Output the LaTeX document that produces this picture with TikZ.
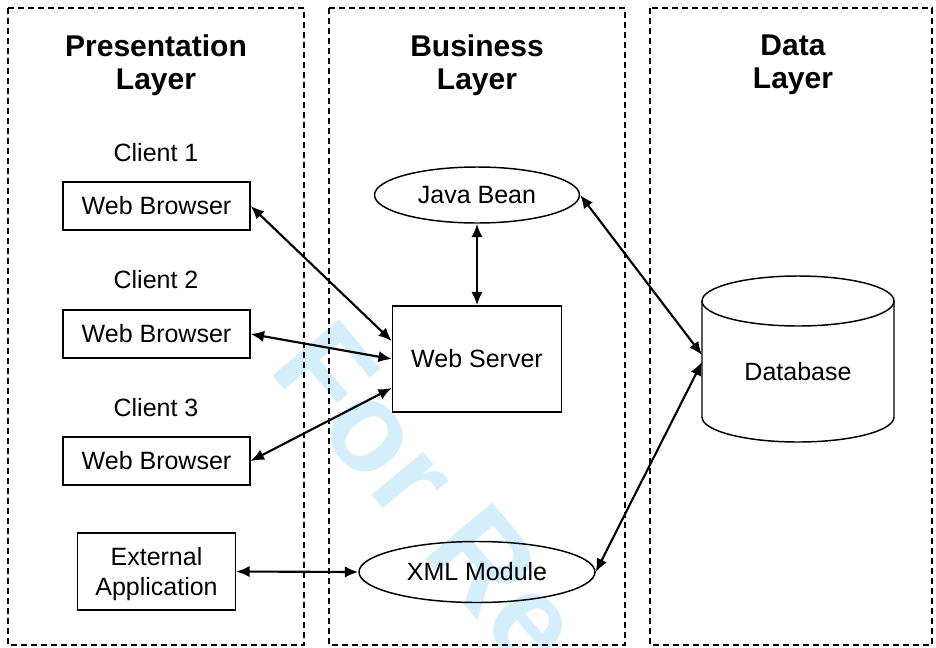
\documentclass[tikz,border=0pt]{standalone}
\usepackage{fontspec}
\setmainfont{Liberation Sans}
\usetikzlibrary{arrows.meta,shapes.geometric,calc}
\definecolor{wmblue}{RGB}{212,238,252}
\begin{document}
\begin{tikzpicture}[x=0.75pt,y=-0.75pt,
  layerbox/.style={draw, line width=1.1pt, dash pattern=on 4.5pt off 3pt},
  title/.style={font=\fontsize{22.5}{24.75}\selectfont\bfseries, align=center, inner sep=0},
  lbl/.style={font=\fontsize{18.75}{22.5}\selectfont, inner sep=0},
  box/.style={draw, line width=1.1pt, font=\fontsize{18.75}{22.5}\selectfont, align=center, inner sep=0},
  oval/.style={ellipse, draw, line width=1.1pt, font=\fontsize{18.75}{22.5}\selectfont, inner sep=0},
  link/.style={{Latex[length=10pt,width=8.5pt]}-{Latex[length=10pt,width=8.5pt]}, line width=1.6pt},
]
\useasboundingbox (0,0) rectangle (936,647);
\fill[white] (0,0) rectangle (936,647);
% watermark
\begin{scope}
\clip (0,0) rectangle (936,647);
\node[text=wmblue, font=\fontsize{95}{95}\selectfont\bfseries, inner sep=0, anchor=base west, rotate=-50] (wm) at (267,369.5) {For Re};
\end{scope}
% layers
\draw[layerbox] (8,8) rectangle (304,645);
\draw[layerbox] (329,8) rectangle (625,645);
\draw[layerbox] (650,8) rectangle (932,645);
\node[title] (t1) at (156,65) {Presentation\\Layer};
\node[title] (t2) at (477,65) {Business\\Layer};
\node[title] (t3) at (793,65) {Data\\Layer};
% presentation
\node[lbl] (c1) at (156,152.5) {Client 1};
\node[lbl] (c2) at (156,279.5) {Client 2};
\node[lbl] (c3) at (156,407.5) {Client 3};
\node[box, minimum width=140.25pt, minimum height=36pt] (wb1) at (156.5,206) {Web Browser};
\node[box, minimum width=140.25pt, minimum height=36pt] (wb2) at (156.5,334) {Web Browser};
\node[box, minimum width=140.25pt, minimum height=36pt] (wb3) at (156.5,461) {Web Browser};
\node[box, minimum width=118.5pt, minimum height=57.75pt] (ext) at (156.5,571.5) {\rule{0pt}{17pt}External\\Application};
% business
\node[oval, minimum width=153.75pt, minimum height=42pt] (jb) at (477,195) {Java Bean};
\node[box, minimum width=126.75pt, minimum height=79.5pt] (ws) at (477,359) {Web Server};
\node[oval, minimum width=177pt, minimum height=45.75pt] (xml) at (477,572) {XML Module};
% data
\draw[line width=1.1pt, fill=white] (702,301) -- (702,417) arc[start angle=180, end angle=360, x radius=72pt, y radius=18.75pt] -- (894,301);
\draw[line width=1.1pt] (798,301) ellipse [x radius=72pt, y radius=18.75pt];
\node[lbl] (db) at (798,372) {Database};
\coordinate (dbA) at (702,355);
\coordinate (dbB) at (702,362);
% connectors
\draw[link] (wb1.east) -- ([yshift=13.5pt]ws.west);
\draw[link] (wb2.east) -- (ws.west);
\draw[link] (wb3.east) -- ([yshift=-21.75pt]ws.west);
\draw[link] (jb.south) -- (ws.north);
\draw[link] (ext.east) -- (xml.west);
\draw[link] (jb.east) -- (dbA);
\draw[link] (xml.east) -- (dbB);
\end{tikzpicture}
\end{document}
